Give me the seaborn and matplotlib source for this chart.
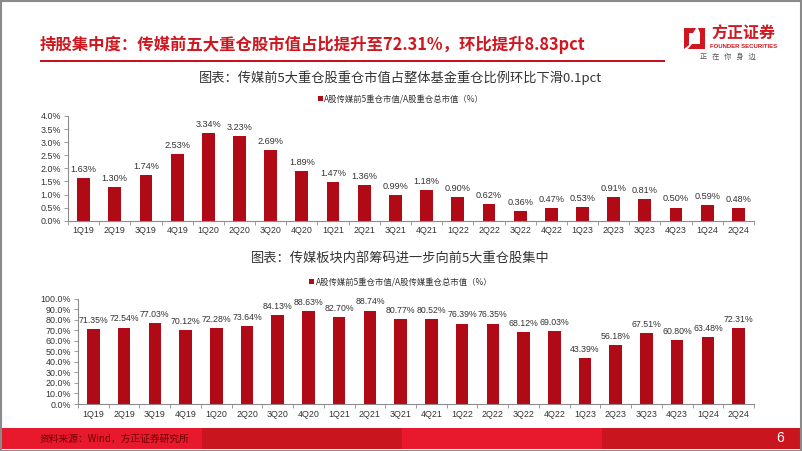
import matplotlib
matplotlib.use("Agg")
import matplotlib.pyplot as plt
import seaborn as sns
import pandas as pd
from matplotlib.patches import Rectangle, Polygon, Patch
from matplotlib.ticker import FuncFormatter, FixedLocator

quarters = ["1Q19", "2Q19", "3Q19", "4Q19", "1Q20", "2Q20", "3Q20", "4Q20",
            "1Q21", "2Q21", "3Q21", "4Q21", "1Q22", "2Q22", "3Q22", "4Q22",
            "1Q23", "2Q23", "3Q23", "4Q23", "1Q24", "2Q24"]
share_of_fund = [1.63, 1.30, 1.74, 2.53, 3.34, 3.23, 2.69, 1.89, 1.47, 1.36, 0.99,
                 1.18, 0.90, 0.62, 0.36, 0.47, 0.53, 0.91, 0.81, 0.50, 0.59, 0.48]
top5_concentration = [71.35, 72.54, 77.03, 70.12, 72.28, 73.64, 84.13, 88.63, 82.70,
                      88.74, 80.77, 80.52, 76.39, 76.35, 68.12, 69.03, 43.39, 56.18,
                      67.51, 60.80, 63.48, 72.31]

main_title = "持股集中度：传媒前五大重仓股市值占比提升至72.31%，环比提升8.83pct"
title1 = "图表：传媒前5大重仓股重仓市值占整体基金重仓比例环比下滑0.1pct"
title2 = "图表：传媒板块内部筹码进一步向前5大重仓股集中"
legend1 = "A股传媒前5重仓市值/A股重仓总市值（%）"
legend2 = "A股传媒前5重仓市值/A股传媒重仓总市值（%）"
source = "资料来源：Wind，方正证券研究所"

sns.set_theme(style="white")
plt.rcParams['font.family'] = ['Liberation Sans', 'Noto Sans CJK SC', 'DejaVu Sans']

BAR = "#B00A17"
RED = "#D0161E"
TXT = "#333333"
W, H = 802, 451

fig = plt.figure(figsize=(W / 100, H / 100), dpi=100)
fig.patch.set_facecolor("white")

def fx(x):
    return x / W

def fy(y):
    return 1 - y / H

def make_axes(left, right, top, bottom):
    return fig.add_axes([fx(left), fy(bottom), fx(right) - fx(left), (bottom - top) / H])

def style_axes(ax, vals, ymax, step, fmt, label_size):
    df = pd.DataFrame({"q": quarters, "v": vals})
    sns.barplot(data=df, x="q", y="v", color=BAR, width=0.41, ax=ax,
                saturation=1, edgecolor="none")
    ax.set_ylim(0, ymax)
    ax.set_xlim(-0.5, len(quarters) - 0.5)
    ticks = [i * step for i in range(int(round(ymax / step)) + 1)]
    ax.yaxis.set_major_locator(FixedLocator(ticks))
    ax.yaxis.set_major_formatter(FuncFormatter(lambda v, p: fmt.format(v)))
    ax.set_xlabel("")
    ax.set_ylabel("")
    for s in ["top", "right"]:
        ax.spines[s].set_visible(False)
    for s in ["left", "bottom"]:
        ax.spines[s].set_color("#8c8c8c")
        ax.spines[s].set_linewidth(0.8)
    ax.tick_params(axis="y", which="major", direction="out", length=3, width=0.6,
                   color="#8c8c8c", labelsize=6.4, labelcolor=TXT, pad=2, left=True)
    ax.tick_params(axis="x", which="major", length=0, labelsize=6.4, labelcolor=TXT, pad=4)
    ax.set_xticks([i - 0.5 for i in range(len(quarters) + 1)], minor=True)
    ax.tick_params(axis="x", which="minor", direction="out", length=3, width=0.6,
                   color="#8c8c8c", bottom=True)
    ax.bar_label(ax.containers[0], labels=[f"{v:.2f}%" for v in vals],
                 padding=3, fontsize=label_size, color=TXT)
    ax.grid(False)

ax1 = make_axes(68, 754, 116, 220.7)
style_axes(ax1, share_of_fund, 4.0, 0.5, "{:.1f}%", 6.6)
ax2 = make_axes(78, 754, 298.7, 404)
style_axes(ax2, top5_concentration, 100.0, 10.0, "{:.1f}%", 6.3)

# legends
for y, txt in [(99, legend1), (282, legend2)]:
    fig.legend(handles=[Patch(facecolor=BAR, edgecolor="none", label=txt)],
               loc="center", bbox_to_anchor=(fx(401), fy(y)), frameon=False,
               handlelength=0.6, handleheight=0.6, handletextpad=0.2,
               borderpad=0, labelcolor=TXT,
               prop={"family": ["Noto Sans CJK SC"], "size": 6})

# titles
fig.text(fx(40), fy(45), main_title, color=RED, fontsize=11.8, fontweight="bold",
         ha="left", va="center", family=["Noto Sans CJK SC", "DejaVu Sans"])
fig.text(fx(401), fy(78), title1, color=TXT, fontsize=9.5, ha="center", va="center",
         family=["Noto Sans CJK SC", "DejaVu Sans"])
fig.text(fx(400), fy(259), title2, color=TXT, fontsize=9.5, ha="center", va="center",
         family=["Noto Sans CJK SC", "DejaVu Sans"])

# red rule under title
fig.add_artist(Rectangle((fx(40), fy(61.5)), fx(665) - fx(40), 2 / H,
                         transform=fig.transFigure, facecolor="#C8101E", edgecolor="none"))

# logo
icon1 = Polygon([(fx(684), fy(28)), (fx(696), fy(28)), (fx(693), fy(33)), (fx(689), fy(33)),
                 (fx(689), fy(45)), (fx(684), fy(49))], closed=True,
                transform=fig.transFigure, facecolor=RED, edgecolor="none")
icon2 = Polygon([(fx(698), fy(28)), (fx(705), fy(28)), (fx(705), fy(49)), (fx(688), fy(49)),
                 (fx(692), fy(44)), (fx(700), fy(44)), (fx(700), fy(33))], closed=True,
                transform=fig.transFigure, facecolor=RED, edgecolor="none")
fig.add_artist(icon1)
fig.add_artist(icon2)
fig.text(fx(743), fy(34), "方正证券", color=RED, fontsize=11.5, fontweight="bold",
         ha="center", va="center", family=["Noto Sans CJK SC"])
fig.text(fx(744), fy(46), "FOUNDER SECURITIES", color=RED, fontsize=4.3,
         fontweight="bold", ha="center", va="center")
fig.text(fx(728), fy(57), "正   在   你   身   边", color="#555555", fontsize=5.2,
         ha="center", va="center", family=["Noto Sans CJK SC"])

# footer band
cols = ["#E8192C", "#C8151E", "#E8192C", "#C8151E"]
for i, c in enumerate(cols):
    fig.add_artist(Rectangle((fx(2 + i * 200), fy(449)), 200 / W, 21 / H,
                             transform=fig.transFigure, facecolor=c, edgecolor="none"))
fig.text(fx(40), fy(439), source, color="#6B0000", fontsize=7, style="italic",
         ha="left", va="center", family=["Noto Sans CJK SC", "DejaVu Sans"])
fig.text(fx(780), fy(438), "6", color="white", fontsize=10, ha="center", va="center")

# slide border
fig.add_artist(Rectangle((0.5 / W, 0.5 / H), 1 - 1.5 / W, 1 - 1.5 / H,
                         transform=fig.transFigure, facecolor="none",
                         edgecolor="#8a8a8a", linewidth=1.5))

fig.savefig("out.png", dpi=100, facecolor="white")
